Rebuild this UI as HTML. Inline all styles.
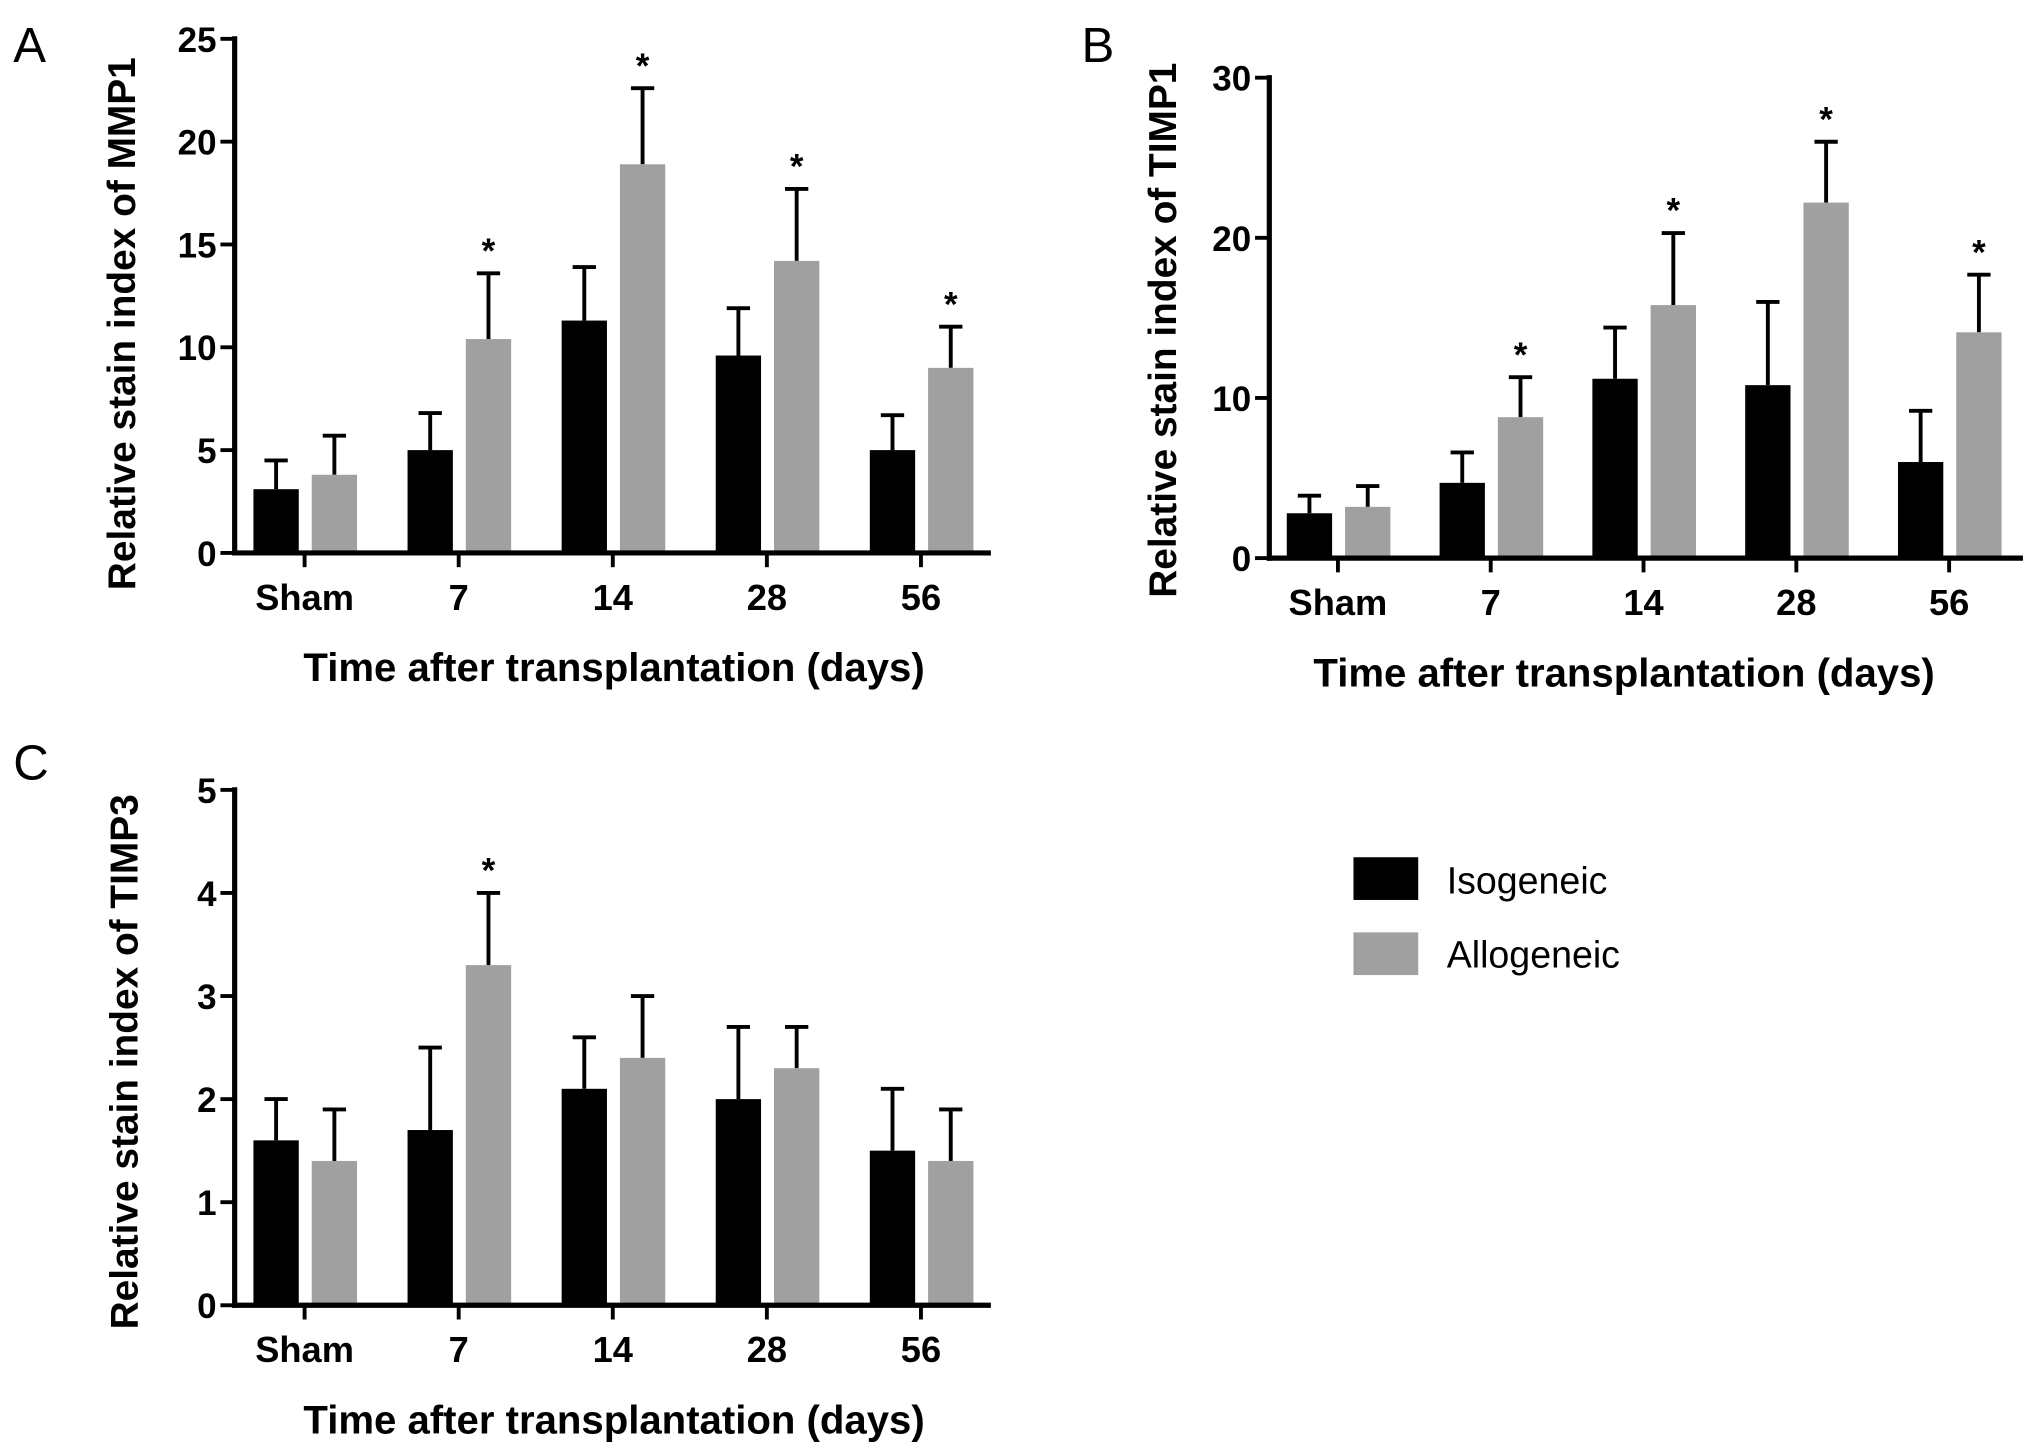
<!DOCTYPE html>
<html><head><meta charset="utf-8"><style>
html,body{margin:0;padding:0;background:#fff;}
svg{display:block;font-family:"Liberation Sans",Arial,sans-serif;}
</style></head><body>
<svg id="fig" width="2031" height="1449" viewBox="0 0 1568 1119" xmlns="http://www.w3.org/2000/svg">
<rect width="1568" height="1119" fill="#fff"/>
<text x="10" y="48" font-size="38">A</text>
<text x="835" y="48" font-size="38">B</text>
<text x="10" y="602" font-size="38">C</text>
<g>
<rect x="1045" y="662" width="50" height="33" fill="#000"/>
<text x="1117" y="690" font-size="29">Isogeneic</text>
<rect x="1045" y="720" width="50" height="33" fill="#a0a0a0"/>
<text x="1117" y="747" font-size="29">Allogeneic</text>
</g>
</svg>
<script>
const categories = ["Sham","7","14","28","56"];
const mmp1Iso = [3.1,5.0,11.3,9.6,5.0];
const mmp1IsoErr = [1.4,1.8,2.6,2.3,1.7];
const mmp1Allo = [3.8,10.4,18.9,14.2,9.0];
const mmp1AlloErr = [1.9,3.2,3.7,3.5,2.0];
const mmp1Sig = [false,true,true,true,true];
const mmp1Ticks = [0,5,10,15,20,25];
const timp1Iso = [2.8,4.7,11.2,10.8,6.0];
const timp1IsoErr = [1.1,1.9,3.2,5.2,3.2];
const timp1Allo = [3.2,8.8,15.8,22.2,14.1];
const timp1AlloErr = [1.3,2.5,4.5,3.8,3.6];
const timp1Sig = [false,true,true,true,true];
const timp1Ticks = [0,10,20,30];
const timp3Iso = [1.6,1.7,2.1,2.0,1.5];
const timp3IsoErr = [0.4,0.8,0.5,0.7,0.6];
const timp3Allo = [1.4,3.3,2.4,2.3,1.4];
const timp3AlloErr = [0.5,0.7,0.6,0.4,0.5];
const timp3Sig = [false,true,false,false,false];
const timp3Ticks = [0,1,2,3,4,5];

const NS="http://www.w3.org/2000/svg";
const svg=document.getElementById('fig');
function mk(tag,attrs,parent){const e=document.createElementNS(NS,tag);for(const k in attrs)e.setAttribute(k,attrs[k]);(parent||svg).appendChild(e);return e;}

function panel(p){
  const g=mk('g',{});
  
  
  const ymax=p.ticks[p.ticks.length-1];
  const y=v=>p.y0-(v/ymax)*(p.y0-p.yTop);
  const x=i=>p.c0+i*p.step;
  function series(vals,errs,fill,off,nm){
    vals.forEach((v,i)=>{
      const cx=x(i)+off, top=y(v), et=y(v+errs[i]);
      const eb=mk('line',{x1:cx,x2:cx,y1:top,y2:et,stroke:'#000','stroke-width':3},g);
      
      
      const cap=mk('line',{x1:cx-9,x2:cx+9,y1:et,y2:et,stroke:'#000','stroke-width':3},g);
      
      
      const r=mk('rect',{x:cx-17.5,y:top,width:35,height:p.y0-top,fill:fill},g);
      
      
    });
  }
  series(p.iso,p.isoErr,'#000',-22,p.name+'-isogeneic');
  series(p.allo,p.alloErr,'#a0a0a0',23,p.name+'-allogeneic');
  p.sig.forEach((s,i)=>{ if(!s)return;
    const t=mk('text',{x:x(i)+23,y:y(p.allo[i]+p.alloErr[i])-8,'font-size':27,'font-weight':'bold','text-anchor':'middle'},g);
    t.textContent='*';
    
    
  });
  const ya=mk('line',{x1:p.xAxis,x2:p.xAxis,y1:p.yTop-2,y2:p.y0+2,stroke:'#000','stroke-width':4},g);
  
  
  const xa=mk('line',{x1:p.xAxis-2,x2:p.xEnd,y1:p.y0,y2:p.y0,stroke:'#000','stroke-width':4},g);
  
  
  p.ticks.forEach(t=>{
    mk('line',{x1:p.xAxis-11,x2:p.xAxis,y1:y(t),y2:y(t),stroke:'#000','stroke-width':3},g);
    const l=mk('text',{x:p.xAxis-14,y:y(t)+10,'font-size':27,'font-weight':'bold','text-anchor':'end'},g);
    l.textContent=t;
    
    
  });
  categories.forEach((c,i)=>{
    mk('line',{x1:x(i),x2:x(i),y1:p.y0,y2:p.y0+11,stroke:'#000','stroke-width':3},g);
    const l=mk('text',{x:x(i),y:p.y0+44,'font-size':28,'font-weight':'bold','text-anchor':'middle'},g);
    l.textContent=c;
    
    
  });
  const xt=mk('text',{x:p.titleX,y:p.y0+99,'font-size':31,'font-weight':'bold','text-anchor':'middle'},g);
  xt.textContent='Time after transplantation (days)';
  
  
  const cy=p.ytY;
  const yt=mk('text',{x:p.ytX,y:cy,'font-size':30,'font-weight':'bold','text-anchor':'middle',transform:`rotate(-90 ${p.ytX} ${cy})`},g);
  yt.textContent=p.ytitle;
  
  
}
panel({name:'mmp1',iso:mmp1Iso,isoErr:mmp1IsoErr,allo:mmp1Allo,alloErr:mmp1AlloErr,sig:mmp1Sig,ticks:mmp1Ticks,
  xAxis:181,xEnd:765,yTop:30,y0:427,c0:235,step:119,ytX:104,ytY:250,titleX:474,ytitle:'Relative stain index of MMP1'});
panel({name:'timp1',iso:timp1Iso,isoErr:timp1IsoErr,allo:timp1Allo,alloErr:timp1AlloErr,sig:timp1Sig,ticks:timp1Ticks,
  xAxis:980,xEnd:1562,yTop:60,y0:431,c0:1033,step:118,ytX:908,ytY:255,titleX:1254,ytitle:'Relative stain index of TIMP1'});
panel({name:'timp3',iso:timp3Iso,isoErr:timp3IsoErr,allo:timp3Allo,alloErr:timp3AlloErr,sig:timp3Sig,ticks:timp3Ticks,
  xAxis:181,xEnd:765,yTop:610,y0:1008,c0:235,step:119,ytX:106,ytY:820,titleX:474,ytitle:'Relative stain index of TIMP3'});
</script>
</body></html>
